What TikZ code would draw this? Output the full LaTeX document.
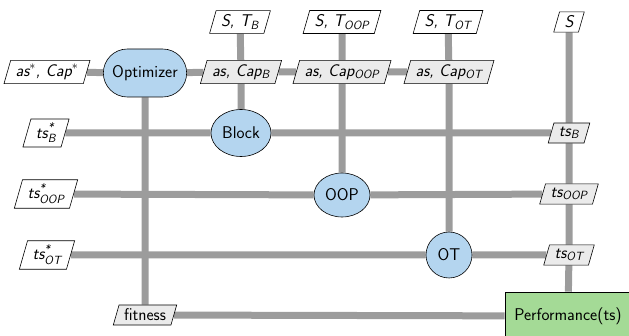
\documentclass[tikz,border=0pt]{standalone}
\usepackage{fontspec}
\usepackage{amsmath}
\usetikzlibrary{shapes.geometric,shapes.misc}
\definecolor{wire}{HTML}{9C9C9C}
\definecolor{procblue}{HTML}{B4D5EF}
\definecolor{perfgreen}{HTML}{A4DA96}
\definecolor{datagray}{HTML}{EBEBEB}
\newcommand\figfont{\sffamily\fontsize{17}{20}\selectfont}
\pgfdeclarelayer{bg}
\pgfsetlayers{bg,main}
\tikzset{
  wireline/.style={draw=wire, line width=7pt},
  io/.style={trapezium, trapezium left angle=74, trapezium right angle=106,
    draw, fill=white, line width=0.6pt,
    inner xsep=5pt, inner ysep=4pt,
    font=\figfont\itshape},
  iodata/.style={io, fill=datagray},
  proc/.style={ellipse, draw, fill=procblue, line width=0.6pt, inner sep=1pt},
}
\begin{document}
\begin{tikzpicture}[x=1pt, y=-1pt, font=\figfont]
\useasboundingbox (0,0) rectangle (629,336);

% process nodes
\node[rounded rectangle, draw, fill=procblue, line width=0.6pt,
      minimum width=90pt, minimum height=48pt] (opt) at (145,73) {Optimizer};
\node[proc, minimum width=60pt, minimum height=47pt] (block) at (241,133) {Block};
\node[proc, minimum width=56pt, minimum height=44pt] (oop) at (342,195) {OOP};
\node[proc, minimum width=46pt, minimum height=46pt] (ot) at (449,255) {OT};
\node[draw, fill=perfgreen, line width=0.6pt, minimum width=126pt,
      minimum height=48pt] (perf) at (568,316) {Performance(ts)};

% inputs
\node[io] (cap) at (47,72) {as$^{*}$, Cap$^{*}$};
\node[io] (tsb) at (46,133) {ts$^{\text{*}}_{\text{B}}$};
\node[io] (tsoop) at (46,194) {ts$^{\text{*}}_{\text{OOP}}$};
\node[io] (tsot) at (47,255) {ts$^{\text{*}}_{\text{OT}}$};

\node[io] (stb) at (240,22) {S, T$_{\text{B}}$};
\node[io] (stoop) at (342,22) {S, T$_{\text{OOP}}$};
\node[io] (stot) at (448,22) {S, T$_{\text{OT}}$};
\node[io] (s) at (569,22) {S};

% intermediate data
\node[iodata] (capb) at (241,72) {as, Cap$_{\text{B}}$};
\node[iodata] (capoop) at (342,72) {as, Cap$_{\text{OOP}}$};
\node[iodata] (capot) at (449,72) {as, Cap$_{\text{OT}}$};

\node[iodata] (outb) at (569,133) {ts$_{\text{B}}$};
\node[iodata] (outoop) at (569,194) {ts$_{\text{OOP}}$};
\node[iodata] (outot) at (569,255) {ts$_{\text{OT}}$};
\node[iodata, font=\figfont\upshape] (fit) at (145,315) {fitness};

% connections, drawn behind the nodes
\begin{pgfonlayer}{bg}
  \draw[wireline] (cap) -- (opt) -- (capb) -- (capoop) -- (capot);
  \draw[wireline] (opt) -- (fit);
  \draw[wireline] (stb) -- (capb) -- (block);
  \draw[wireline] (stoop) -- (capoop) -- (oop);
  \draw[wireline] (stot) -- (capot) -- (ot);
  \draw[wireline] (s) -- (outb) -- (outoop) -- (outot) -- (perf);
  \draw[wireline] (tsb) -- (block) -- (outb);
  \draw[wireline] (tsoop) -- (oop) -- (outoop);
  \draw[wireline] (tsot) -- (ot) -- (outot);
  \draw[wireline] (fit) -- (perf);
\end{pgfonlayer}
\end{tikzpicture}
\end{document}
